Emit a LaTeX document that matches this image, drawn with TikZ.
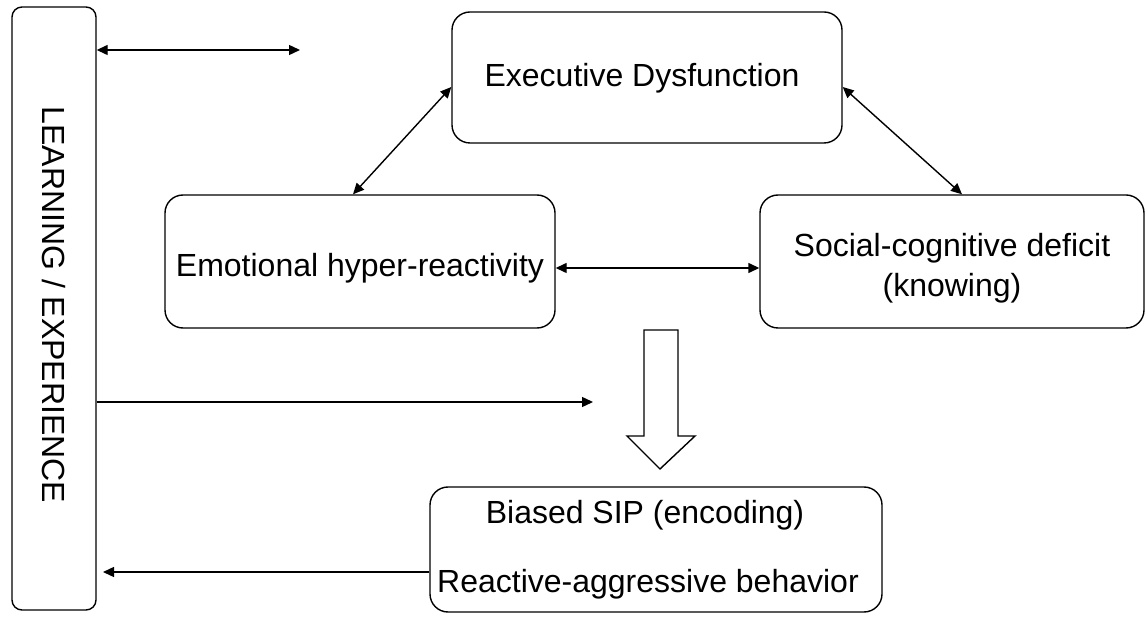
\documentclass[tikz,border=0pt]{standalone}
\usepackage{fontspec}
\setmainfont{Liberation Sans}
\usetikzlibrary{arrows.meta,calc}
\begin{document}
\begin{tikzpicture}[x=1pt,y=-1pt,
  txt/.style={font=\fontsize{32}{40}\selectfont,inner sep=0pt},
  box/.style={draw=black,line width=1.4pt,rounded corners=18pt,inner sep=0pt},
  conn/.style={line width=1.4pt,{Triangle[length=11pt,width=10pt]}-{Triangle[length=11pt,width=10pt]}},
  oneway/.style={line width=1.4pt,-{Triangle[length=11pt,width=10pt]}}]
\useasboundingbox (0,0) rectangle (1146,617);
\node[box,rounded corners=10pt,minimum width=84pt,minimum height=603pt] (lbox) at (54,308.5) {};
\node[txt,rotate=-90] (ltext) at (54,305) {LEARNING / EXPERIENCE};
\node[box,minimum width=390pt,minimum height=131pt] (exec) at (647,77.5) {};
\node[txt] (exect) at (642,78) {Executive Dysfunction};
\node[box,minimum width=390pt,minimum height=133pt] (emo) at (360,261.5) {};
\node[txt] (emot) at (360,268) {Emotional hyper-reactivity};
\node[box,minimum width=384pt,minimum height=133pt] (soc) at (952,261.5) {};
\node[txt,align=center] (soct) at (952,268) {Social-cognitive deficit\\(knowing)};
\node[box,minimum width=452pt,minimum height=125pt] (sip) at (656,549.5) {};
\node[txt] (sip1) at (645,515) {Biased SIP (encoding)};
\node[txt] (sip2) at (648,584) {Reactive-aggressive behavior};
\coordinate (t1) at (300,50);
\coordinate (m1) at (593,402);
\coordinate (b1) at (103,572);
\draw[conn] (lbox.east |- t1) -- (t1);
\draw[oneway] (lbox.east |- m1) -- (m1);
\draw[oneway] (sip.west |- b1) -- (b1);
\draw[conn] ([yshift=-9.5pt]exec.west) -- ([xshift=-7pt]emo.north);
\draw[conn] ([yshift=-9.5pt]exec.east) -- ([xshift=10pt]soc.north);
\draw[conn] ([yshift=-6.5pt]emo.east) -- ([yshift=-6.5pt]soc.west);
\draw[line width=1.4pt] (644,330) -- (678,330) -- (678,436) -- (695,436) -- (660,469) -- (627,436) -- (644,436) -- cycle;
\end{tikzpicture}
\end{document}
